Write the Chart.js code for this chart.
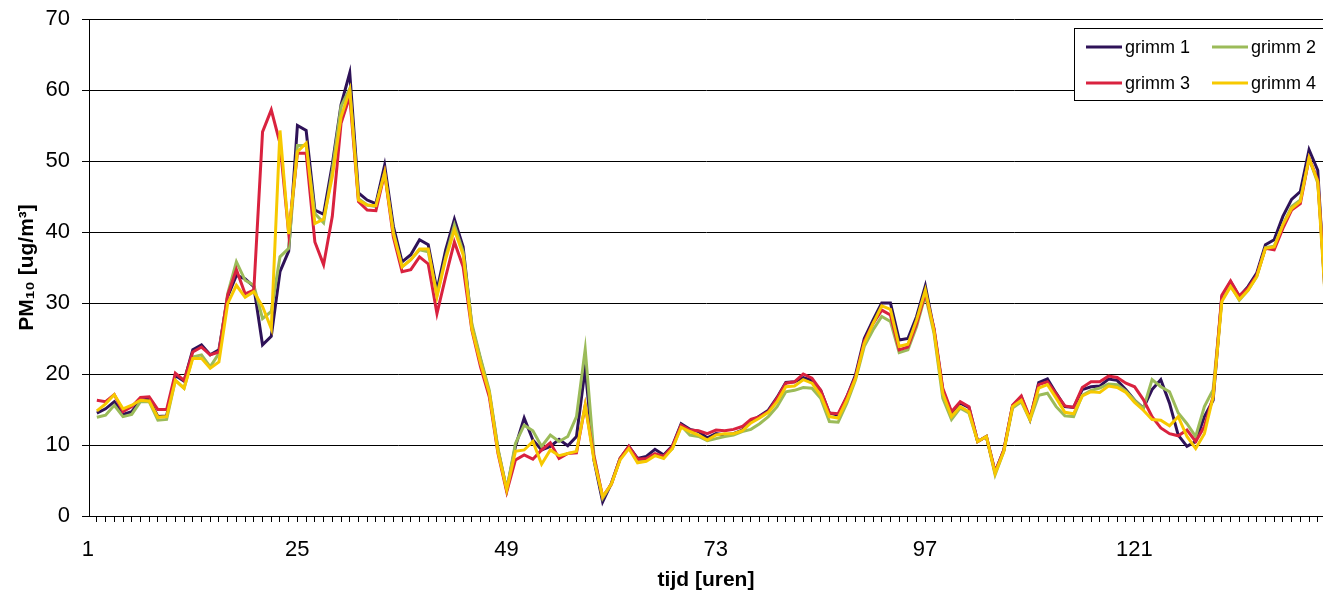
<!DOCTYPE html>
<html>
<head>
<meta charset="utf-8">
<script src="https://cdn.jsdelivr.net/npm/chart.js@4.4.1/dist/chart.umd.min.js"></script>
<style>
  html, body { margin: 0; padding: 0; background: #fff; }
  #pmChart { display: block; background: #fff; }
</style>
</head>
<body>
<canvas id="pmChart" width="1323" height="593"></canvas>
<script>
// hours 1..142 (the picture is cut off just after hour 141)
const hours = Array.from({length: 142}, (_, k) => k + 1);
const tickLabels = ['1', '25', '49', '73', '97', '121'];

const grimm1 = [
  14.5, 15.1, 16.1, 14.3, 14.7, 16.3, 16.5, 14.0, 14.1, 19.8, 19.0, 23.4, 24.1, 22.7, 23.4, 30.9, 33.9, 33.4, 32.3, 24.1, 25.3, 34.4, 37.3, 55.0, 54.3,
  43.1, 42.5, 49.5, 57.9, 62.4, 45.5, 44.5, 44.0, 49.4, 40.8, 35.8, 36.8, 38.9, 38.2, 31.8, 37.5, 41.8, 37.9, 26.7, 22.0, 17.3, 9.3, 3.7,
  9.8, 13.8, 10.7, 9.3, 9.8, 10.8, 9.9, 11.2, 20.8, 7.9, 2.0, 4.6, 8.1, 9.8, 8.1, 8.4, 9.4, 8.6, 9.9, 13.0, 12.2, 11.9, 11.0, 11.6,
  11.4, 11.6, 12.1, 13.3, 14.1, 14.9, 16.7, 18.8, 18.9, 19.5, 19.1, 17.7, 14.5, 14.2, 16.8, 19.9, 25.0, 27.6, 30.0, 30.0, 24.8, 25.0, 28.1, 32.4,
  26.2, 17.7, 14.5, 15.9, 15.3, 10.5, 11.2, 6.2, 9.3, 15.5, 16.8, 13.6, 18.8, 19.3, 17.3, 15.4, 15.3, 17.8, 18.2, 18.3, 19.3, 19.1, 17.8, 16.3, 15.2,
  17.8, 19.2, 15.9, 11.4, 9.8, 10.5, 14.0, 16.3, 30.9, 33.0, 30.9, 32.3, 34.2, 38.2, 38.9, 42.2, 44.6, 45.7, 51.6, 48.7, 27.8
];
const grimm2 = [
  13.9, 14.2, 15.6, 14.0, 14.3, 16.1, 16.1, 13.5, 13.6, 19.1, 18.0, 22.4, 22.7, 21.0, 22.9, 31.3, 35.8, 33.2, 32.5, 27.8, 28.8, 36.5, 37.7, 52.2, 52.2,
  42.6, 41.3, 48.7, 57.7, 60.2, 44.7, 43.8, 43.6, 48.4, 40.0, 35.1, 36.1, 37.5, 37.2, 31.1, 36.5, 41.0, 37.2, 27.1, 22.2, 17.7, 9.5, 3.7,
  10.2, 12.8, 12.0, 9.8, 11.4, 10.5, 11.2, 14.0, 23.5, 8.6, 2.5, 4.5, 8.1, 9.7, 7.7, 7.9, 8.6, 8.4, 9.5, 12.7, 11.4, 11.2, 10.6, 10.9,
  11.2, 11.4, 11.9, 12.2, 13.0, 14.0, 15.4, 17.5, 17.7, 18.1, 18.0, 16.6, 13.3, 13.2, 15.9, 19.2, 23.9, 26.2, 28.1, 27.4, 23.0, 23.4, 26.7, 31.1,
  25.7, 16.6, 13.6, 15.2, 14.5, 10.5, 11.2, 5.8, 9.1, 15.2, 16.1, 13.5, 17.0, 17.3, 15.4, 14.1, 14.0, 17.0, 17.7, 18.0, 18.6, 18.5, 17.6, 16.3, 15.1,
  19.2, 18.2, 17.5, 14.5, 13.0, 11.2, 15.4, 17.8, 30.4, 32.5, 30.4, 31.8, 33.7, 37.8, 38.0, 41.0, 43.6, 44.5, 50.4, 46.9, 30.3
];
const grimm3 = [
  16.3, 16.1, 17.1, 14.7, 15.4, 16.7, 16.8, 15.0, 15.0, 20.1, 19.1, 23.1, 23.8, 22.7, 23.1, 31.1, 34.7, 31.3, 31.8, 54.1, 57.2, 52.5, 39.8, 51.1, 51.1,
  38.6, 35.4, 42.2, 55.3, 59.1, 44.3, 43.1, 43.0, 48.3, 39.3, 34.4, 34.7, 36.5, 35.5, 28.5, 33.7, 38.6, 35.1, 26.2, 21.0, 16.8, 8.8, 3.4,
  7.9, 8.6, 8.0, 9.3, 10.3, 8.1, 8.8, 8.9, 15.6, 8.4, 2.7, 4.5, 8.1, 9.8, 8.0, 8.1, 8.8, 8.4, 9.8, 12.8, 12.1, 12.0, 11.6, 12.1,
  12.0, 12.2, 12.6, 13.6, 14.0, 14.7, 16.6, 18.7, 18.9, 20.0, 19.4, 17.7, 14.5, 14.4, 16.8, 19.6, 24.6, 27.1, 29.0, 28.3, 23.4, 23.8, 27.1, 31.4,
  26.4, 18.0, 14.7, 16.1, 15.4, 10.5, 11.2, 6.2, 9.3, 15.6, 16.9, 13.8, 18.5, 18.9, 17.2, 15.5, 15.3, 18.1, 18.9, 18.9, 19.7, 19.5, 18.7, 18.2, 16.4,
  14.0, 12.4, 11.6, 11.3, 12.1, 10.5, 12.6, 16.8, 31.1, 33.1, 31.0, 32.1, 33.9, 37.7, 37.5, 40.5, 43.1, 44.0, 50.4, 47.3, 29.3
];
const grimm4 = [
  14.8, 15.8, 17.1, 15.1, 15.6, 16.3, 16.2, 13.9, 14.0, 19.1, 18.0, 22.2, 22.2, 20.8, 21.7, 29.9, 32.5, 30.8, 31.6, 29.5, 26.4, 54.3, 39.7, 51.3, 52.5,
  41.2, 41.8, 47.8, 56.2, 60.0, 44.5, 43.8, 43.7, 48.3, 39.8, 35.1, 36.1, 37.6, 37.6, 30.9, 36.2, 40.3, 36.8, 26.4, 21.5, 17.3, 9.0, 3.7,
  9.1, 9.3, 10.5, 7.3, 9.3, 8.5, 8.8, 9.1, 15.6, 7.9, 2.7, 4.5, 7.9, 9.5, 7.5, 7.7, 8.5, 8.1, 9.5, 12.5, 11.9, 11.4, 10.7, 11.4,
  11.6, 11.6, 12.0, 13.1, 13.8, 14.6, 16.1, 18.2, 18.3, 19.2, 18.7, 17.0, 14.0, 13.8, 16.3, 19.4, 24.3, 27.1, 29.6, 29.1, 23.9, 24.2, 27.6, 31.8,
  26.0, 17.3, 14.0, 15.4, 14.7, 10.5, 11.2, 6.0, 9.1, 15.4, 16.3, 13.6, 18.0, 18.5, 16.6, 14.6, 14.4, 16.9, 17.5, 17.4, 18.3, 18.1, 17.4, 16.0, 14.9,
  13.6, 13.5, 12.7, 14.0, 11.2, 9.5, 11.6, 16.8, 30.2, 32.3, 30.5, 31.8, 33.7, 37.7, 37.9, 41.0, 43.3, 44.3, 50.4, 47.1, 27.9
];

const FONT = '"Liberation Sans", Arial, sans-serif';
const X_MIN = 0.1, X_MAX = 141.6;

const toPoints = (vals) => vals.map((v, k) => ({x: hours[k], y: v}));

// legend box drawn inside the plot, top right, 2 x 2 like the excel one
const boxLegend = {
  id: 'boxLegend',
  afterDraw(chart) {
    const {ctx, chartArea} = chart;
    const left = chartArea.right - 249;
    const top = chartArea.top + 9;
    ctx.save();
    ctx.fillStyle = '#fff';
    ctx.fillRect(left, top, 260, 73);
    ctx.strokeStyle = '#000';
    ctx.lineWidth = 1;
    ctx.strokeRect(left + 0.5, top + 0.5, 260, 72);
    ctx.font = '18px ' + FONT;
    ctx.textBaseline = 'middle';
    chart.data.datasets.forEach((ds, k) => {
      const x = left + 12 + (k % 2) * 126;
      const y = top + 19 + Math.floor(k / 2) * 36;
      ctx.strokeStyle = ds.borderColor;
      ctx.lineWidth = 3;
      ctx.beginPath();
      ctx.moveTo(x, y);
      ctx.lineTo(x + 36, y);
      ctx.stroke();
      ctx.fillStyle = '#000';
      ctx.fillText(ds.label, x + 39, y + 1);
    });
    ctx.restore();
  }
};

const ctx = document.getElementById('pmChart').getContext('2d');
const pmChart = new Chart(ctx, {
  type: 'line',
  data: {
    datasets: [
      {label: 'grimm 1', data: toPoints(grimm1), borderColor: '#2e1258', order: 4},
      {label: 'grimm 2', data: toPoints(grimm2), borderColor: '#9bbb59', order: 3},
      {label: 'grimm 3', data: toPoints(grimm3), borderColor: '#d9223f', order: 2},
      {label: 'grimm 4', data: toPoints(grimm4), borderColor: '#f7c900', order: 1}
    ]
  },
  options: {
    responsive: false,
    devicePixelRatio: 1,
    animation: false,
    layout: {padding: {top: 19, right: 0, bottom: 0, left: 0}},
    elements: {
      line: {borderWidth: 3, tension: 0, fill: false},
      point: {radius: 0}
    },
    plugins: {
      legend: {display: false},
      tooltip: {enabled: false}
    },
    scales: {
      x: {
        type: 'linear',
        min: X_MIN,
        max: X_MAX,
        afterFit: (scale) => {
          scale.height = 77;
          scale.paddingLeft = 0;
          scale.paddingRight = 0;
        },
        afterBuildTicks: (scale) => {
          scale.ticks = hours.filter(h => h <= X_MAX).map(h => ({value: h}));
        },
        ticks: {
          autoSkip: false,
          maxRotation: 0,
          padding: 15,
          labelOffset: -9,
          color: '#000',
          font: {family: FONT, size: 22},
          callback: (value) => tickLabels.includes(String(value)) ? String(value) : ''
        },
        grid: {drawOnChartArea: false, drawTicks: true, tickLength: 6, color: '#000'},
        border: {display: true, color: '#000', width: 1},
        title: {
          display: true,
          text: 'tijd [uren]',
          color: '#000',
          font: {family: FONT, size: 21, weight: 'bold'},
          padding: {top: 0, bottom: 0}
        }
      },
      y: {
        min: 0,
        max: 70,
        afterFit: (scale) => {
          scale.width = 89;
          scale.paddingTop = 0;
          scale.paddingBottom = 0;
        },
        ticks: {
          stepSize: 10,
          padding: 12,
          color: '#000',
          font: {family: FONT, size: 22}
        },
        grid: {color: '#000', lineWidth: 1, tickLength: 7},
        border: {display: true, color: '#000', width: 1},
        title: {
          display: true,
          text: 'PM\u2081\u2080 [ug/m\u00b3]',
          color: '#000',
          font: {family: FONT, size: 21, weight: 'bold'},
          padding: {top: 15, bottom: 0}
        }
      }
    }
  },
  plugins: [boxLegend]
});
</script>
</body>
</html>
